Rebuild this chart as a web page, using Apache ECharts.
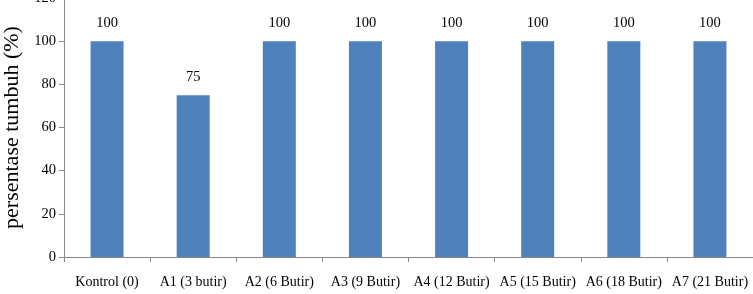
<!DOCTYPE html>
<html>
<head>
<meta charset="utf-8">
<script src="https://cdn.jsdelivr.net/npm/echarts@6/dist/echarts.min.js"></script>
<style>
	html, body { margin: 0; padding: 0; background: #fff; }
	#chart { width: 753px; height: 294px; }
</style>
</head>
<body>
<div id="chart"></div>
<script>
"use strict";

var categories = ['Kontrol (0)', 'A1 (3 butir)', 'A2 (6 Butir)', 'A3 (9 Butir)', 'A4 (12 Butir)', 'A5 (15 Butir)', 'A6 (18 Butir)', 'A7 (21 Butir)'];
var growthValues = [100, 75, 100, 100, 100, 100, 100, 100];
var yMin = 0;
var yMax = 120;
var yStep = 20;

var SERIF = '"Liberation Serif", "DejaVu Serif", serif';
var AXIS_GREY = '#888888';

var chart = echarts.init(document.getElementById('chart'));

chart.setOption({
	animation: false,
	grid: {
		left: 64,
		right: 0,
		top: -2,
		bottom: 37,
		outerBoundsMode: 'none',
		containLabel: false
	},
	xAxis: [{
		type: 'category',
		data: categories,
		axisLine: { lineStyle: { color: AXIS_GREY } },
		axisTick: { show: true, length: 5, inside: false, lineStyle: { color: AXIS_GREY } },
		axisLabel: {
			interval: 0,
			margin: 18,
			color: '#000',
			fontFamily: SERIF,
			fontSize: 14
		}
	}],
	yAxis: [{
		type: 'value',
		min: yMin,
		max: yMax,
		interval: yStep,
		name: 'persentase tumbuh (%)',
		nameLocation: 'middle',
		nameRotate: 90,
		nameGap: 40,
		nameTextStyle: {
			color: '#000',
			fontFamily: SERIF,
			fontSize: 22
		},
		axisLine: { show: true, lineStyle: { color: AXIS_GREY } },
		axisTick: { show: true, length: 5, lineStyle: { color: AXIS_GREY } },
		splitLine: { show: false },
		axisLabel: {
			margin: 8,
			color: '#000',
			fontFamily: SERIF,
			fontSize: 14.5
		}
	}],
	series: [{
		name: 'persentase tumbuh',
		type: 'bar',
		data: growthValues,
		barWidth: 33,
		itemStyle: { color: '#4F81BD' },
		label: {
			show: true,
			position: 'top',
			distance: 10,
			color: '#000',
			fontFamily: SERIF,
			fontSize: 14.5
		}
	}]
});
</script>
</body>
</html>
